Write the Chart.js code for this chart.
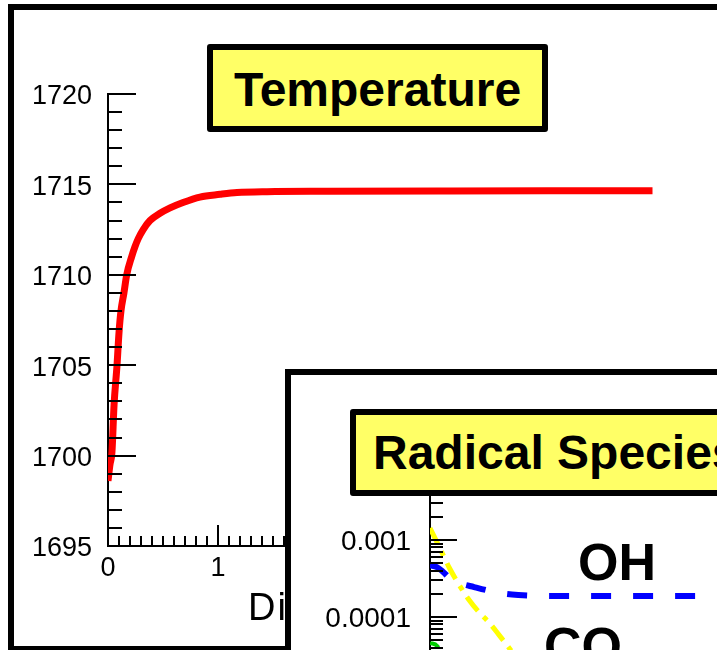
<!DOCTYPE html>
<html>
<head>
<meta charset="utf-8">
<script src="https://cdn.jsdelivr.net/npm/chart.js@4.4.1/dist/chart.umd.min.js"></script>
<style>
  html, body { margin: 0; padding: 0; background: #fff; }
  body { width: 717px; height: 650px; position: relative; overflow: hidden; font-family: "Liberation Sans", Arial, sans-serif; }
  #frame { position: absolute; left: 8px; top: 4px; width: 800px; height: 648px; border: 6px solid #000; box-sizing: border-box; }
  #mainChart { position: absolute; left: 0; top: 0; }
  #xTitle { position: absolute; left: 248px; top: 588px; font-size: 38px; line-height: 38px; letter-spacing: 2px; color: #000; white-space: nowrap; }
  .tag { position: absolute; background: #ffff66; border: 6px solid #000; border-radius: 3px; box-sizing: border-box; font-weight: bold; color: #000; white-space: nowrap; }
  #tempTag { left: 207px; top: 44px; width: 341px; height: 88px; font-size: 48px; line-height: 76px; text-align: center; }
  #tempTag span { position: relative; top: 2px; }
  #inset { position: absolute; left: 285px; top: 369px; width: 700px; height: 400px; border: 6px solid #000; background: #fff; box-sizing: border-box; }
  #insetChart { position: absolute; left: 291px; top: 375px; }
  #radTag { left: 350px; top: 409px; width: 500px; height: 87px; font-size: 48px; line-height: 75px; padding-left: 17px; }
  .species { position: absolute; font-weight: bold; font-size: 52px; line-height: 52px; color: #000; }
</style>
</head>
<body>
<div id="frame"></div>
<canvas id="mainChart" width="717" height="650"></canvas>
<div id="xTitle">Distance (cm)</div>
<div class="tag" id="tempTag"><span>Temperature</span></div>
<div id="inset"></div>
<canvas id="insetChart" width="600" height="400"></canvas>
<div class="tag" id="radTag">Radical Species</div>
<div class="species" style="left:578px; top:536px;">OH</div>
<div class="species" style="left:544px; top:620px;">CO</div>

<script>
// ---- temperature profile (main plot) ----
const tempX = [0, 0.018, 0.036, 0.055, 0.082, 0.1, 0.118, 0.145, 0.17, 0.215, 0.245, 0.275, 0.32, 0.382, 0.473, 0.564, 0.682, 0.836, 1.018, 1.173, 1.445, 2.0, 3.0, 4.0, 4.95];
const tempY = [1698.6, 1699.5, 1700.2, 1702.8, 1705.0, 1706.8, 1708.0, 1709.0, 1710.0, 1711.0, 1711.55, 1712.0, 1712.5, 1713.0, 1713.4, 1713.7, 1714.0, 1714.3, 1714.45, 1714.55, 1714.6, 1714.62, 1714.64, 1714.65, 1714.65];

const tempXTicks = [0, 1, 2, 3, 4, 5];
const tempYTicks = [1695, 1700, 1705, 1710, 1715, 1720];

// ---- radical species (inset, log scale) ----
const ohX = [0, 0.076, 0.14, 0.22, 0.33, 0.49, 0.65, 0.81, 0.98, 1.2, 2.5, 5];
const ohY = [4.7e-4, 4.45e-4, 3.9e-4, 3.2e-4, 2.75e-4, 2.45e-4, 2.2e-4, 2.02e-4, 1.93e-4, 1.88e-4, 1.87e-4, 1.87e-4];

const coX = [0, 0.108, 0.217, 0.325, 0.434, 0.542, 0.651, 0.759, 0.868, 1.085, 1.3, 1.6];
const coY = [1.43e-3, 7.9e-4, 4.3e-4, 2.6e-4, 1.66e-4, 1.16e-4, 8.6e-5, 6.0e-5, 4.1e-5, 1.9e-5, 1.0e-5, 5e-6];

const greenX = [0, 0.08, 0.16, 0.3, 0.5];
const greenY = [4.6e-5, 4.2e-5, 2.8e-5, 1.5e-5, 8e-6];

const insetDecades = [1e-5, 1e-4, 1e-3, 1e-2];

const FONT = '"Liberation Sans", Arial, sans-serif';

const pts = (xs, ys) => xs.map((x, i) => ({ x: x, y: ys[i] }));

// tick marks drawn inside the plot area, like the original plotting package
const innerTicks = {
  id: 'innerTicks',
  afterDraw(chart, args, opts) {
    const { ctx } = chart;
    ctx.save();
    ctx.strokeStyle = '#000';
    ctx.lineWidth = 2;
    ['x', 'y'].forEach(axis => {
      const spec = opts[axis];
      if (!spec) return;
      const scale = chart.scales[axis];
      const marks = spec.major.map(v => [v, spec.majorLen]).concat(spec.minor.map(v => [v, spec.minorLen]));
      marks.forEach(([v, len]) => {
        const p = Math.round(scale.getPixelForValue(v));
        ctx.beginPath();
        if (axis === 'x') {
          ctx.moveTo(p, scale.top);
          ctx.lineTo(p, scale.top - len);
        } else {
          ctx.moveTo(scale.right, p);
          ctx.lineTo(scale.right + len, p);
        }
        ctx.stroke();
      });
    });
    ctx.restore();
  }
};

function stepsBetween(a, b, step) {
  const out = [];
  const n = Math.round((b - a) / step);
  for (let i = 0; i <= n; i++) out.push(+(a + i * step).toFixed(4));
  return out;
}

function logMinors(decades) {
  const out = [];
  decades.slice(0, -1).forEach(d => { for (let m = 2; m <= 9; m++) out.push(d * m); });
  return out;
}

// ---- main chart ----
new Chart(document.getElementById('mainChart'), {
  type: 'line',
  data: {
    datasets: [{
      label: 'Temperature',
      data: pts(tempX, tempY),
      borderColor: '#ff0000',
      borderWidth: 7,
      pointRadius: 0,
      fill: false,
      cubicInterpolationMode: 'monotone'
    }]
  },
  options: {
    responsive: false,
    animation: false,
    devicePixelRatio: 1,
    layout: { padding: { top: 94, right: 59, left: 0, bottom: 0 } },
    plugins: {
      legend: { display: false },
      tooltip: { enabled: false },
      innerTicks: {
        x: { major: tempXTicks, minor: stepsBetween(0, 5, 0.1), majorLen: 21, minorLen: 10 },
        y: { major: tempYTicks, minor: stepsBetween(1695, 1720, 1), majorLen: 28, minorLen: 14 }
      }
    },
    scales: {
      x: {
        type: 'linear',
        min: 0, max: 5,
        afterFit: s => { s.height = 104; },
        afterBuildTicks: s => { s.ticks = tempXTicks.map(v => ({ value: v })); },
        grid: { display: false, drawTicks: false },
        border: { display: true, color: '#000', width: 2 },
        ticks: { color: '#000', padding: 6, maxRotation: 0, font: { family: FONT, size: 27 }, callback: v => String(v) }
      },
      y: {
        min: 1695, max: 1720,
        afterFit: s => { s.width = 108; },
        afterBuildTicks: s => { s.ticks = tempYTicks.map(v => ({ value: v })); },
        grid: { display: false, drawTicks: false },
        border: { display: true, color: '#000', width: 2 },
        ticks: { color: '#000', padding: 16, labelOffset: 3, font: { family: FONT, size: 27 }, callback: v => String(v) }
      }
    }
  },
  plugins: [innerTicks]
});

// ---- inset chart ----
new Chart(document.getElementById('insetChart'), {
  type: 'line',
  data: {
    datasets: [
      { label: 'OH', data: pts(ohX, ohY), borderColor: '#0000ff', borderWidth: 6, borderDash: [20, 22], pointRadius: 0, fill: false, cubicInterpolationMode: 'monotone' },
      { label: 'CO', data: pts(coX, coY), borderColor: '#ffff00', borderWidth: 5, borderDash: [18, 8, 5, 8], pointRadius: 0, fill: false, cubicInterpolationMode: 'monotone' },
      { label: 'other', data: pts(greenX, greenY), borderColor: '#00cc00', borderWidth: 4, borderDash: [10, 8], pointRadius: 0, fill: false, cubicInterpolationMode: 'monotone' }
    ]
  },
  options: {
    responsive: false,
    animation: false,
    devicePixelRatio: 1,
    layout: { padding: { top: 88, right: 0, left: 0, bottom: 0 } },
    plugins: {
      legend: { display: false },
      tooltip: { enabled: false },
      innerTicks: {
        y: { major: insetDecades, minor: logMinors(insetDecades), majorLen: 27, minorLen: 13 }
      }
    },
    scales: {
      x: {
        type: 'linear',
        min: 0, max: 5,
        afterFit: s => { s.height = 81; },
        grid: { display: false, drawTicks: false },
        border: { display: true, color: '#000', width: 2 },
        ticks: { color: '#000', stepSize: 1, font: { family: FONT, size: 27 } }
      },
      y: {
        type: 'logarithmic',
        min: 1e-5, max: 1e-2,
        afterFit: s => { s.width = 139; },
        afterBuildTicks: s => { s.ticks = insetDecades.map(v => ({ value: v })); },
        grid: { display: false, drawTicks: false },
        border: { display: true, color: '#000', width: 2 },
        ticks: {
          color: '#000', padding: 19, labelOffset: 2,
          font: { family: FONT, size: 28 },
          callback: v => Number(v).toFixed(Math.round(-Math.log10(v)))
        }
      }
    }
  },
  plugins: [innerTicks]
});
</script>
</body>
</html>
